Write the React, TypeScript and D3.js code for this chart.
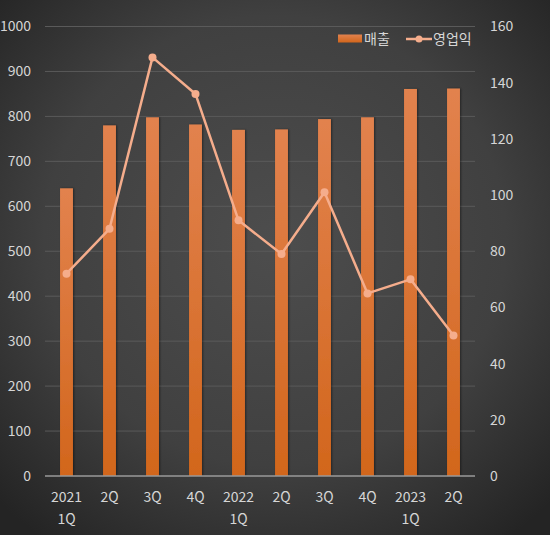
import React from "react";
import * as d3 from "d3";

const categories = ["2021\n1Q", "2Q", "3Q", "4Q", "2022\n1Q", "2Q", "3Q", "4Q", "2023\n1Q", "2Q"];
const sales = [640, 780, 798, 782, 770, 771, 794, 798, 861, 862];
const operatingProfit = [72, 88, 149, 136, 91, 79, 101, 65, 70, 50];
const leftTicks = [0, 100, 200, 300, 400, 500, 600, 700, 800, 900, 1000];
const rightTicks = [0, 20, 40, 60, 80, 100, 120, 140, 160];

const W = 550;
const H = 535;
const margin = { left: 45, right: 75, top: 26.5, bottom: 59 };
const FONT = "'Noto Sans CJK KR', 'Noto Sans', sans-serif";
const TEXT = "#d6d6d6";
const LINE = "#f5ad8c";

export default function App() {
  const x = d3
    .scaleBand<number>()
    .domain(d3.range(categories.length))
    .range([margin.left, W - margin.right])
    .paddingInner(0)
    .paddingOuter(0);
  const yL = d3.scaleLinear().domain([0, 1000]).range([H - margin.bottom, margin.top]);
  const yR = d3.scaleLinear().domain([0, 160]).range([H - margin.bottom, margin.top]);
  const barW = x.bandwidth() * 0.3;
  const cx = (i: number) => (x(i) as number) + x.bandwidth() / 2;

  const line = d3
    .line<number>()
    .x((_, i) => cx(i))
    .y((d) => yR(d));

  return (
    <svg width={W} height={H} style={{ position: "absolute", left: 0, top: 0 }}>
      <defs>
        <radialGradient id="bg" cx="50%" cy="45%" r="70%">
          <stop offset="0%" stopColor="#4d4d4d" />
          <stop offset="60%" stopColor="#404040" />
          <stop offset="100%" stopColor="#242424" />
        </radialGradient>
        <linearGradient id="bar" x1="0" y1="0" x2="0" y2="1">
          <stop offset="0%" stopColor="#e2824e" />
          <stop offset="100%" stopColor="#d2661c" />
        </linearGradient>
        <filter id="shadow" x="-50%" y="-10%" width="200%" height="120%">
          <feDropShadow dx="1" dy="0" stdDeviation="1.2" floodColor="#000" floodOpacity="0.45" />
        </filter>
      </defs>
      <rect x={0} y={0} width={W} height={H} fill="url(#bg)" />

      {leftTicks.map((t) =>
        t === 0 ? null : (
          <line key={t} x1={margin.left} x2={W - margin.right} y1={yL(t)} y2={yL(t)} stroke="#5a5a5a" strokeWidth={1} />
        )
      )}

      {sales.map((v, i) => (
        <rect
          key={i}
          x={cx(i) - barW / 2}
          y={yL(v)}
          width={barW}
          height={yL(0) - yL(v)}
          fill="url(#bar)"
          filter="url(#shadow)"
        />
      ))}

      <line x1={margin.left} x2={W - margin.right} y1={yL(0)} y2={yL(0)} stroke="#9a9a9a" strokeWidth={1.5} />

      <path d={line(operatingProfit) || ""} fill="none" stroke={LINE} strokeWidth={2.5} strokeLinejoin="round" />
      {operatingProfit.map((v, i) => (
        <circle key={i} cx={cx(i)} cy={yR(v)} r={4} fill={LINE} />
      ))}

      {leftTicks.map((t) => (
        <text key={t} x={31} y={yL(t)} dy="0.35em" textAnchor="end" fill={TEXT} fontSize={14} fontFamily={FONT}>
          {t}
        </text>
      ))}
      {rightTicks.map((t) => (
        <text key={t} x={490} y={yR(t)} dy="0.35em" textAnchor="start" fill={TEXT} fontSize={14} fontFamily={FONT}>
          {t}
        </text>
      ))}

      {categories.map((c, i) =>
        c.split("\n").map((part, j) => (
          <text
            key={i + "-" + j}
            x={cx(i)}
            y={497 + j * 22}
            dy="0.35em"
            textAnchor="middle"
            fill={TEXT}
            fontSize={14}
            fontFamily={FONT}
          >
            {part}
          </text>
        ))
      )}

      <g>
        <rect x={338} y={34.5} width={24} height={8} fill="url(#bar)" />
        <text x={364} y={39} dy="0.35em" fill={TEXT} fontSize={14} fontFamily={FONT}>
          매출
        </text>
        <line x1={406} x2={432} y1={39} y2={39} stroke={LINE} strokeWidth={2.5} />
        <circle cx={419} cy={39} r={3.5} fill={LINE} />
        <text x={433} y={39} dy="0.35em" fill={TEXT} fontSize={14} fontFamily={FONT}>
          영업익
        </text>
      </g>
    </svg>
  );
}
